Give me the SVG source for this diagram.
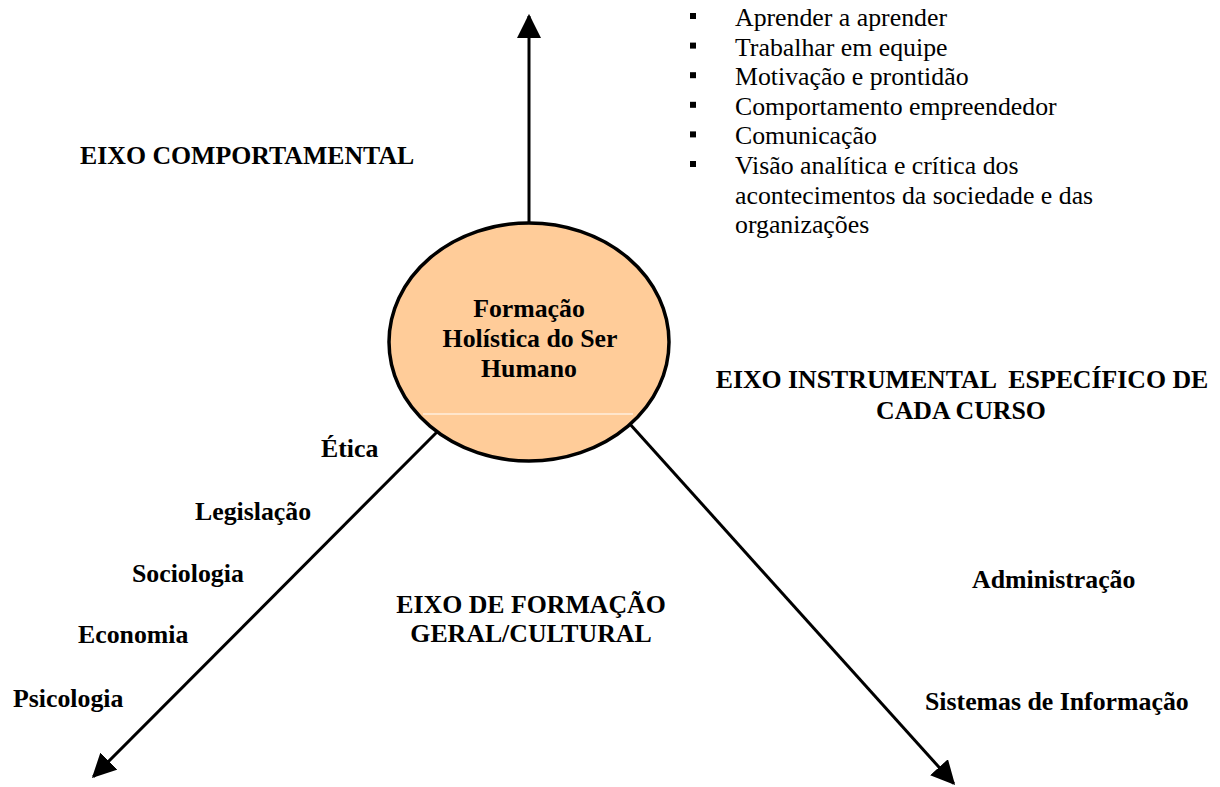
<svg xmlns="http://www.w3.org/2000/svg" width="1220" height="787" viewBox="0 0 1220 787">
<style>
  text { font-family: "Liberation Serif", "Times New Roman", serif; font-size: 25.8px; fill: #000; }
  .b { font-weight: bold; }
  .m { text-anchor: middle; }
  .axis { stroke: #000; stroke-width: 3; fill: none; marker-end: url(#arrow); }
</style>
<defs>
  <marker id="arrow" markerUnits="userSpaceOnUse" markerWidth="24" markerHeight="24" refX="21" refY="11.5" orient="auto" viewBox="0 0 23 23">
    <path d="M0,0 L23,11.5 L0,23 Z" fill="#000"/>
  </marker>
</defs>
<rect width="1220" height="787" fill="#fff"/>

<g id="connectors">
  <line class="axis" x1="529" y1="222" x2="529" y2="16"/>
  <line class="axis" x1="437" y1="432" x2="93.4" y2="776.6"/>
  <line class="axis" x1="629" y1="423" x2="953.7" y2="783.5"/>
</g>

<g id="center">
  <ellipse cx="529" cy="342" rx="140" ry="119" fill="#FFCC99" stroke="#000" stroke-width="3.5"/>
  <line x1="423" y1="414" x2="633" y2="414" stroke="#fff" stroke-width="1"/>
  <text class="b m" x="529" y="317">Formação</text>
  <text class="b m" x="530" y="347">Holística do Ser</text>
  <text class="b m" x="529" y="377">Humano</text>
</g>

<g id="eixo-comportamental">
  <text class="b" x="80" y="164">EIXO COMPORTAMENTAL</text>
</g>

<g id="lista-comportamental">
  <rect x="690" y="13" width="6" height="6"/>
  <rect x="690" y="42.6" width="6" height="6"/>
  <rect x="690" y="72.2" width="6" height="6"/>
  <rect x="690" y="101.8" width="6" height="6"/>
  <rect x="690" y="131.4" width="6" height="6"/>
  <rect x="690" y="161" width="6" height="6"/>
  <text x="735" y="26">Aprender a aprender</text>
  <text x="735" y="55.6">Trabalhar em equipe</text>
  <text x="735" y="85.2">Motivação e prontidão</text>
  <text x="735" y="114.8">Comportamento empreendedor</text>
  <text x="735" y="144.4">Comunicação</text>
  <text x="735" y="174">Visão analítica e crítica dos</text>
  <text x="735" y="203.6">acontecimentos da sociedade e das</text>
  <text x="735" y="233.2">organizações</text>
</g>

<g id="eixo-instrumental">
  <text class="b m" x="962" y="388" xml:space="preserve">EIXO INSTRUMENTAL  ESPECÍFICO DE</text>
  <text class="b m" x="961" y="419">CADA CURSO</text>
</g>

<g id="eixo-formacao-geral">
  <text class="b m" x="531" y="613">EIXO DE FORMAÇÃO</text>
  <text class="b m" x="531" y="642">GERAL/CULTURAL</text>
</g>

<g id="disciplinas-gerais">
  <text class="b" x="321" y="457">Ética</text>
  <text class="b" x="195" y="520">Legislação</text>
  <text class="b" x="132" y="582">Sociologia</text>
  <text class="b" x="78" y="643">Economia</text>
  <text class="b" x="13" y="707">Psicologia</text>
</g>

<g id="cursos">
  <text class="b" x="972" y="588">Administração</text>
  <text class="b" x="925" y="710">Sistemas de Informação</text>
</g>
</svg>
